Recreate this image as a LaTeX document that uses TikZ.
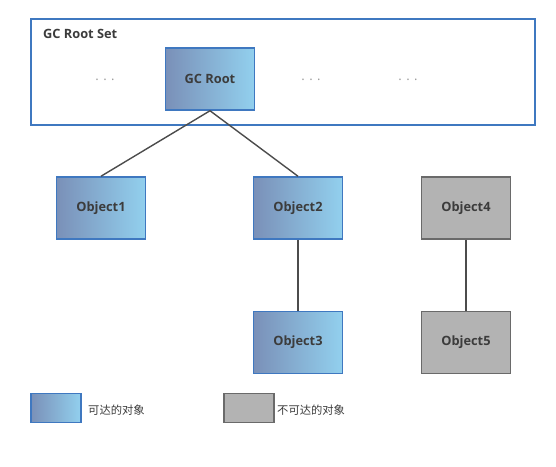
\documentclass[tikz,border=0pt]{standalone}
\usepackage{fontspec}
\setmainfont{Open Sans}
\newfontfamily\cjk{Noto Sans CJK SC}
\usepackage{xcolor}
\usepackage{tikz}
\usetikzlibrary{positioning, calc}
\definecolor{reachL}{HTML}{7A90B8}
\definecolor{reachR}{HTML}{92D0EE}
\definecolor{reachB}{HTML}{3F78C0}
\definecolor{deadF}{HTML}{B3B3B3}
\definecolor{deadB}{HTML}{6A6A6A}
\definecolor{txt}{HTML}{3C3C3C}
\tikzset{
    link/.style={draw=black!70, line width=1.4pt}
}

\begin{document}
\begin{tikzpicture}[
    x=1pt, y=-1pt,
    node distance=70pt,
    reachbox/.style={rectangle, draw=reachB, line width=1.5pt, left color=reachL, right color=reachR, minimum width=89pt, minimum height=62pt, font=\fontsize{12.8}{15}\selectfont\bfseries, text=txt},
    deadbox/.style={rectangle, draw=deadB, line width=1.5pt, fill=deadF, minimum width=89pt, minimum height=62pt, font=\fontsize{12.8}{15}\selectfont\bfseries, text=txt},
    dots/.style={font=\fontsize{13}{15}\selectfont, text=black!40}
]
    \useasboundingbox (0,0) rectangle (556,466);

    % Root set frame
    \node (rootset) [draw=reachB, line width=1.5pt, rectangle, minimum width=504pt, minimum height=106pt] at (283,72) {};
    \node (rootsetlabel) [anchor=west, inner sep=0pt, font=\fontsize{12.8}{15}\selectfont\bfseries, text=txt] at (43,34) {GC Root Set};

    % GC Root and the other roots
    \node (root) [reachbox] at (210,79) {GC Root};
    \node (dotsA) [dots] at (105,80) {. . .};
    \node (dotsB) [dots] at (311,80) {. . .};
    \node (dotsC) [dots] at (408,80) {. . .};

    % Reachable objects
    \node (obj1) [reachbox] at (101,208) {Object1};
    \node (obj2) [reachbox] at (298,208) {Object2};
    \node (obj3) [reachbox, below=71pt of obj2] {Object3};

    % Unreachable objects
    \node (obj4) [deadbox] at (466,208) {Object4};
    \node (obj5) [deadbox, below=71pt of obj4] {Object5};

    % References
    \draw [link] (root.south) -- (obj1.north);
    \draw [link] (root.south) -- (obj2.north);
    \draw [link] (obj2.south) -- (obj3.north);
    \draw [link] (obj4.south) -- (obj5.north);

    % Legend
    \node (legreach) [reachbox, minimum width=50pt, minimum height=29pt] at (56,408) {};
    \node (legreachtxt) [anchor=west, font=\cjk\fontsize{11.3}{13}\selectfont, text=txt, inner sep=0pt] at (88,410) {可达的对象};
    \node (legdead) [deadbox, minimum width=50pt, minimum height=29pt] at (249,408) {};
    \node (legdeadtxt) [anchor=west, font=\cjk\fontsize{11.3}{13}\selectfont, text=txt, inner sep=0pt] at (277,410) {不可达的对象};
\end{tikzpicture}
\end{document}
